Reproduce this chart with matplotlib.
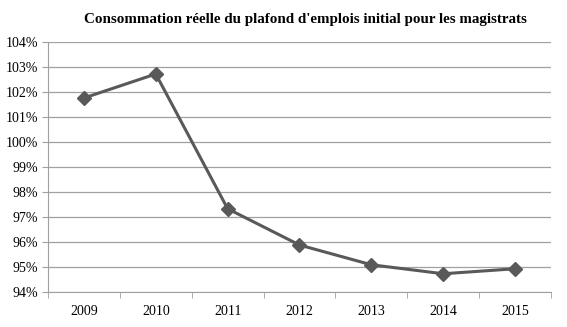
import numpy as np
import matplotlib
matplotlib.use("Agg")
import matplotlib.pyplot as plt
from matplotlib.ticker import FuncFormatter

annees = ["2009", "2010", "2011", "2012", "2013", "2014", "2015"]
consommation = [101.76, 102.72, 97.33, 95.88, 95.09, 94.73, 94.93]

plt.rcParams['font.family'] = ['Liberation Serif', 'DejaVu Serif']

fig = plt.figure(figsize=(5.67, 3.27), dpi=100)
ax = fig.add_axes([0.0847, 0.107, 0.887, 0.7646])

x = np.arange(len(annees))
ax.plot(x, consommation, color="#595959", lw=2.2, marker="D", ms=7,
        markerfacecolor="#595959", markeredgecolor="#595959")

ax.set_xlim(-0.5, len(annees) - 0.5)
ax.set_ylim(94, 104)
ax.set_yticks(np.arange(94, 105, 1))
ax.yaxis.set_major_formatter(FuncFormatter(lambda v, p: "%d%%" % v))
ax.set_xticks(x)
ax.set_xticklabels(annees)
ax.set_xticks(np.arange(-0.5, len(annees), 1), minor=True)
ax.tick_params(axis="x", which="major", length=0, pad=9, labelsize=10)
ax.tick_params(axis="x", which="minor", length=4, color="#a0a0a0", direction="out")
ax.tick_params(axis="y", length=4, color="#a0a0a0", labelsize=10, pad=3)
ax.grid(axis="y", color="#a0a0a0", lw=0.9)
ax.set_axisbelow(True)
for s in ["top", "right"]:
    ax.spines[s].set_visible(False)
ax.spines["left"].set_color("#a0a0a0")
ax.spines["bottom"].set_color("#a0a0a0")

fig.text(0.538, 0.94, "Consommation réelle du plafond d'emplois initial pour les magistrats",
         ha="center", va="center", fontsize=10.8, fontweight="bold")

fig.savefig("out.png", dpi=100)
